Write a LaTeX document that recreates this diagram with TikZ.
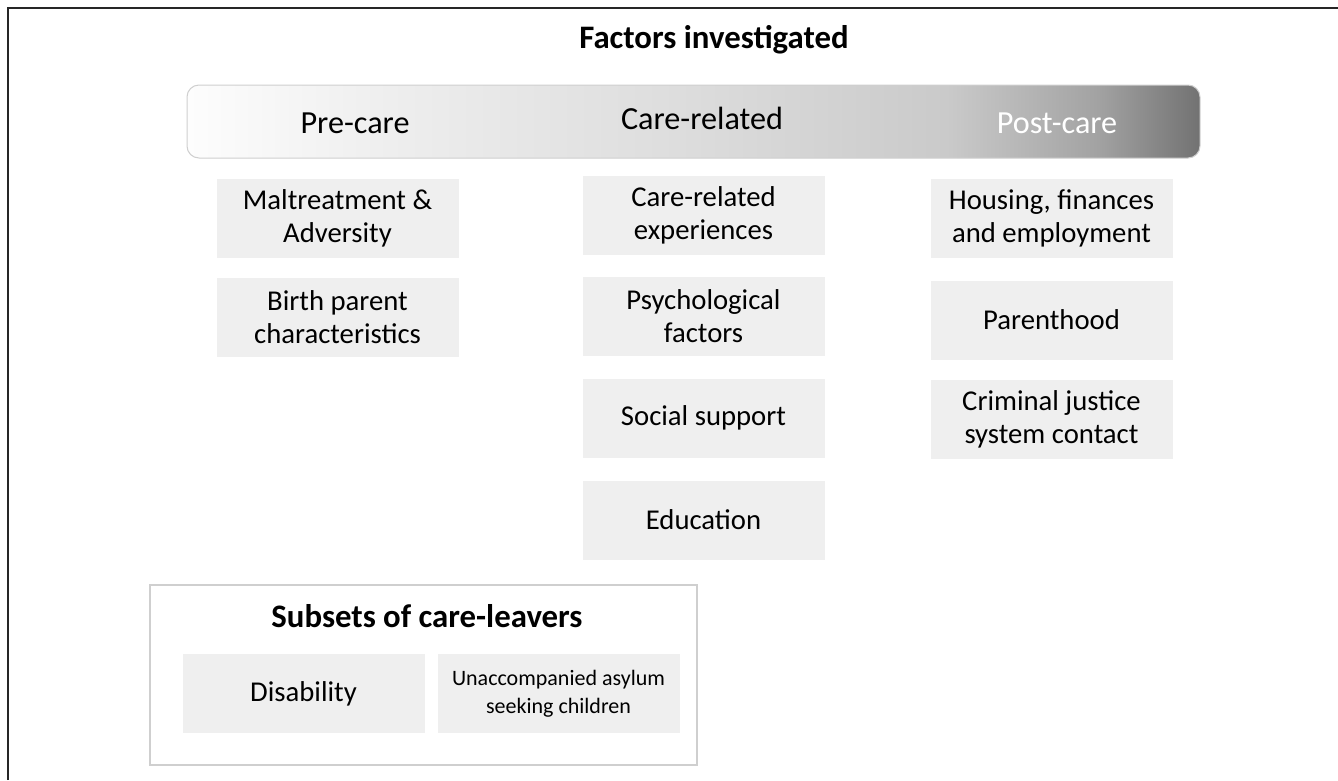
\documentclass[tikz,border=0pt]{standalone}
\usepackage{fontspec}
\setmainfont{Carlito}
\definecolor{boxfill}{HTML}{EFEFEF}
\definecolor{bord}{HTML}{CFCFCF}
\definecolor{sA}{HTML}{FDFDFD}
\definecolor{sB}{HTML}{EEEEEE}
\definecolor{sC}{HTML}{DCDCDC}
\definecolor{sD}{HTML}{CACACA}
\definecolor{sE}{HTML}{A2A2A2}
\definecolor{sF}{HTML}{727272}
\pgfdeclarehorizontalshading{bannershade}{100bp}{color(0bp)=(sA); color(25bp)=(sA); color(35bp)=(sB); color(50bp)=(sC); color(62.5bp)=(sD); color(70bp)=(sE); color(75bp)=(sF); color(100bp)=(sF)}
\tikzset{
  factorbox/.style={fill=boxfill, draw=none, minimum width=242pt, minimum height=79pt, inner sep=0pt, align=center, font=\fontsize{28.7}{33}\selectfont},
  smallbox/.style={factorbox, font=\fontsize{22}{28}\selectfont},
  bannerlabel/.style={font=\fontsize{32.2}{38}\selectfont, inner sep=0pt},
  headline/.style={font=\bfseries\fontsize{32.8}{38}\selectfont, inner sep=0pt},
}
\begin{document}
\begin{tikzpicture}[x=1pt,y=-1pt]
\useasboundingbox (0,0) rectangle (1338,780);
\fill[white] (0,0) rectangle (1338,780);
% outer frame (top and left)
\draw[line width=2pt, black!85] (8,780) -- (8,8) -- (1338,8);
% title
\node[headline] (title) at (714,40) {Factors investigated};
% banner
\path[shading=bannershade, draw=bord, line width=1pt, rounded corners=12pt] (187,85) rectangle (1200,158);
\node[bannerlabel] (pre) at (355,123) {Pre-care};
\node[bannerlabel] (care) at (702,118) {Care-related};
\node[bannerlabel, text=white] (post) at (1057,123) {Post-care};
% column 1
\node[factorbox] (malt) at (337.5,218) {Maltreatment \&\\Adversity};
\node[factorbox] (birth) at (337.5,317) {Birth parent\\characteristics};
% column 2
\node[factorbox] (exp) at (703.5,215) {Care-related\\experiences};
\node[factorbox] (psy) at (703.5,316.5) {Psychological\\factors};
\node[factorbox] (soc) at (703.5,418) {Social support};
\node[factorbox] (edu) at (703.5,520) {Education};
% column 3
\node[factorbox] (hous) at (1051.5,218) {Housing, finances\\and employment};
\node[factorbox] (par) at (1051.5,320) {Parenthood};
\node[factorbox] (crim) at (1051.5,419.5) {Criminal justice\\system contact};
% subsets
\draw[draw=bord, line width=1.5pt, fill=white] (150,585) rectangle (697,765);
\node[headline] (subt) at (427,616) {Subsets of care-leavers};
\node[factorbox] (dis) at (303.5,693.5) {Disability};
\node[smallbox] (uasc) at (558.5,693.5) {Unaccompanied asylum\\seeking children};
\end{tikzpicture}
\end{document}
